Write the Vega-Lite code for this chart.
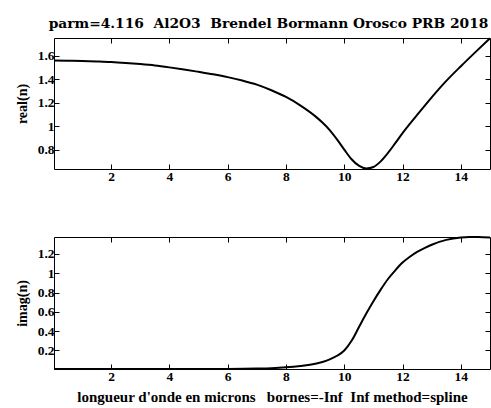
{
  "$schema": "https://vega.github.io/schema/vega-lite/v6.json",
  "background": "white",
  "padding": {"left": 14, "top": 17, "right": 1, "bottom": 2},
  "title": {"text": "parm=4.116\u00a0\u00a0Al2O3\u00a0\u00a0Brendel Bormann Orosco PRB 2018", "font": "DejaVu Serif", "fontSize": 13.8, "fontWeight": "bold", "color": "black", "anchor": "middle", "offset": 3, "dx": 14},
  "spacing": 68,
  "bounds": "flush",
  "config": {
    "view": {"stroke": "black", "strokeWidth": 1},
    "axis": {"labelFont": "Liberation Serif", "labelFontSize": 13.5, "labelFontWeight": "bold", "labelColor": "black", "titleFont": "Liberation Serif", "titleFontSize": 14, "titleFontWeight": "bold", "titleColor": "black", "grid": false, "domain": false, "tickColor": "black", "tickSize": -5, "labelPadding": 5, "format": "~g"}
  },
  "datasets": {
    "real": [
      {"wl": 0.04, "n": 1.558}, {"wl": 0.5, "n": 1.557}, {"wl": 1, "n": 1.555}, {"wl": 1.5, "n": 1.551},
      {"wl": 2, "n": 1.546}, {"wl": 2.5, "n": 1.538}, {"wl": 3, "n": 1.528}, {"wl": 3.5, "n": 1.516},
      {"wl": 4, "n": 1.5}, {"wl": 4.5, "n": 1.482}, {"wl": 5, "n": 1.462}, {"wl": 5.5, "n": 1.441},
      {"wl": 6, "n": 1.417}, {"wl": 6.5, "n": 1.388}, {"wl": 7, "n": 1.353}, {"wl": 7.5, "n": 1.305},
      {"wl": 8, "n": 1.248}, {"wl": 8.5, "n": 1.175}, {"wl": 9, "n": 1.085}, {"wl": 9.25, "n": 1.03},
      {"wl": 9.5, "n": 0.966}, {"wl": 9.75, "n": 0.887}, {"wl": 10, "n": 0.8}, {"wl": 10.25, "n": 0.718},
      {"wl": 10.5, "n": 0.663}, {"wl": 10.75, "n": 0.639}, {"wl": 11, "n": 0.652}, {"wl": 11.25, "n": 0.7},
      {"wl": 11.5, "n": 0.772}, {"wl": 11.75, "n": 0.855}, {"wl": 12, "n": 0.94}, {"wl": 12.5, "n": 1.095},
      {"wl": 13, "n": 1.245}, {"wl": 13.5, "n": 1.385}, {"wl": 14, "n": 1.51}, {"wl": 14.5, "n": 1.63},
      {"wl": 15, "n": 1.747}
    ],
    "imag": [
      {"wl": 0.04, "k": 0.008}, {"wl": 2, "k": 0.008}, {"wl": 4, "k": 0.008}, {"wl": 6, "k": 0.009},
      {"wl": 7, "k": 0.012}, {"wl": 7.5, "k": 0.016}, {"wl": 8, "k": 0.025}, {"wl": 8.5, "k": 0.04},
      {"wl": 9, "k": 0.062}, {"wl": 9.25, "k": 0.08}, {"wl": 9.5, "k": 0.108}, {"wl": 9.75, "k": 0.145},
      {"wl": 10, "k": 0.2}, {"wl": 10.25, "k": 0.3}, {"wl": 10.5, "k": 0.44}, {"wl": 10.75, "k": 0.58},
      {"wl": 11, "k": 0.71}, {"wl": 11.25, "k": 0.83}, {"wl": 11.5, "k": 0.94}, {"wl": 11.75, "k": 1.03},
      {"wl": 12, "k": 1.11}, {"wl": 12.25, "k": 1.17}, {"wl": 12.5, "k": 1.22}, {"wl": 12.75, "k": 1.26},
      {"wl": 13, "k": 1.295}, {"wl": 13.5, "k": 1.345}, {"wl": 14, "k": 1.37}, {"wl": 14.3, "k": 1.375},
      {"wl": 14.6, "k": 1.374}, {"wl": 15, "k": 1.37}
    ]
  },
  "vconcat": [
    {
      "width": 436, "height": 131,
      "data": {"name": "real"},
      "layer": [
        {
          "mark": {"type": "line", "color": "black", "strokeWidth": 2, "interpolate": "monotone"},
          "encoding": {
            "x": {"field": "wl", "type": "quantitative", "scale": {"domain": [0.04, 15], "nice": false, "zero": false}, "axis": {"orient": "bottom", "values": [2, 4, 6, 8, 10, 12, 14], "title": null}},
            "y": {"field": "n", "type": "quantitative", "scale": {"domain": [0.635, 1.75], "nice": false, "zero": false}, "axis": {"orient": "left", "values": [0.8, 1, 1.2, 1.4, 1.6], "title": "real(n)", "titlePadding": 8}}
          }
        },
        {
          "mark": {"type": "line", "strokeOpacity": 0},
          "encoding": {
            "x": {"field": "wl", "type": "quantitative", "axis": {"orient": "top", "values": [2, 4, 6, 8, 10, 12, 14], "labels": false, "title": null}},
            "y": {"field": "n", "type": "quantitative", "axis": {"orient": "right", "values": [0.8, 1, 1.2, 1.4, 1.6], "labels": false, "title": null}}
          }
        }
      ],
      "resolve": {"axis": {"x": "independent", "y": "independent"}}
    },
    {
      "width": 436, "height": 132,
      "data": {"name": "imag"},
      "layer": [
        {
          "mark": {"type": "line", "color": "black", "strokeWidth": 2, "interpolate": "monotone"},
          "encoding": {
            "x": {"field": "wl", "type": "quantitative", "scale": {"domain": [0.04, 15], "nice": false, "zero": false}, "axis": {"orient": "bottom", "values": [2, 4, 6, 8, 10, 12, 14], "title": "longueur d'onde en microns\u00a0\u00a0\u00a0bornes=-Inf\u00a0\u00a0Inf method=spline", "titlePadding": 7, "titleFontSize": 15}},
            "y": {"field": "k", "type": "quantitative", "scale": {"domain": [0.008, 1.375], "nice": false, "zero": false}, "axis": {"orient": "left", "values": [0.2, 0.4, 0.6, 0.8, 1, 1.2], "title": "imag(n)", "titlePadding": 8}}
          }
        },
        {
          "mark": {"type": "line", "strokeOpacity": 0},
          "encoding": {
            "x": {"field": "wl", "type": "quantitative", "axis": {"orient": "top", "values": [2, 4, 6, 8, 10, 12, 14], "labels": false, "title": null}},
            "y": {"field": "k", "type": "quantitative", "axis": {"orient": "right", "values": [0.2, 0.4, 0.6, 0.8, 1, 1.2], "labels": false, "title": null}}
          }
        }
      ],
      "resolve": {"axis": {"x": "independent", "y": "independent"}}
    }
  ]
}
